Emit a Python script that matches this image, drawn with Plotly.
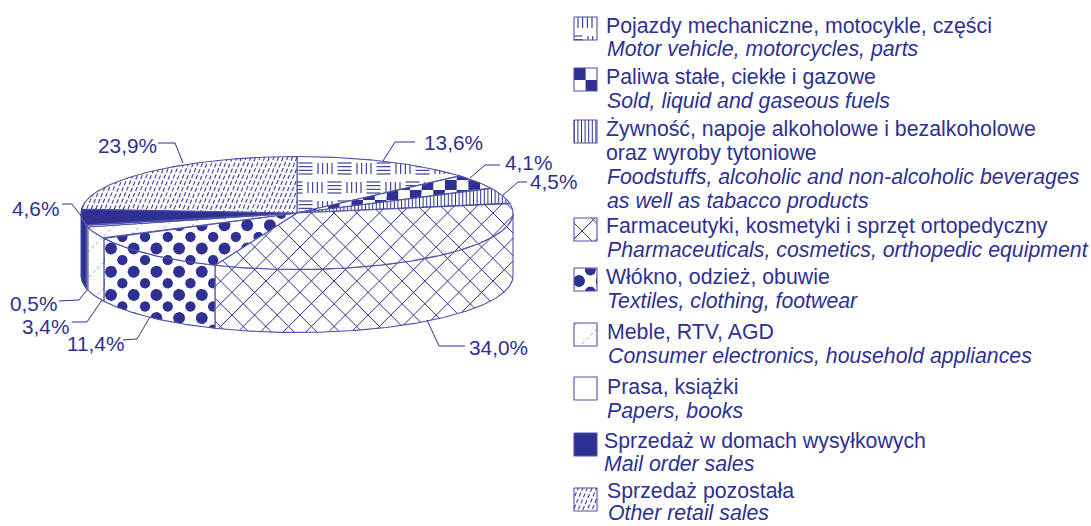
import numpy as np
import plotly.graph_objects as go

# ---- data -------------------------------------------------------------
VALUES = [13.6, 4.1, 4.5, 34.0, 11.4, 3.4, 0.5, 4.6, 23.9]
VALUE_LABELS = ["13,6%", "4,1%", "4,5%", "34,0%", "11,4%", "3,4%", "0,5%", "4,6%", "23,9%"]
NAMES_PL = ["Pojazdy mechaniczne, motocykle, części", "Paliwa stałe, ciekłe i gazowe",
            "Żywność, napoje alkoholowe i bezalkoholowe<br>oraz wyroby tytoniowe",
            "Farmaceutyki, kosmetyki i sprzęt ortopedyczny", "Włókno, odzież, obuwie",
            "Meble, RTV, AGD", "Prasa, książki", "Sprzedaż w domach wysyłkowych", "Sprzedaż pozostała"]
NAMES_EN = ["Motor vehicle, motorcycles, parts", "Sold, liquid and gaseous fuels",
            "Foodstuffs, alcoholic and non-alcoholic beverages<br>as well as tabacco products",
            "Pharmaceuticals, cosmetics, orthopedic equipment", "Textiles, clothing, footwear",
            "Consumer electronics, household appliances", "Papers, books", "Mail order sales",
            "Other retail sales"]

# ---- layout / style ----------------------------------------------------
NAVY = "#2e3192"
EDGE = "#4f52a6"
FONT = "Liberation Sans"
CX, CY, RX, RY, DEPTH = 297.0, 213.0, 216.0, 56.5, 63.0
W, H = 1091, 526

LABEL_POS = [(422, 142), (503, 162), (528, 181), (467, 347), (65, 343),
             (20, 326), (8, 303), (10, 208), (96, 145)]
LEADERS = [[(415, 142), (395, 142), (383, 161)], [(500, 165), (485, 165), (470, 178)],
           [(527, 182), (518, 182), (503, 195)], [(465, 346), (439, 346), (427, 320)],
           [(123, 340), (137, 339), (150, 317)], [(72, 322), (87, 322), (102, 300)],
           [(59, 301), (79, 300), (87, 290)], [(62, 204), (72, 204), (82, 217)],
           [(158, 143), (175, 143), (183, 163)]]
SWATCH_Y = [17, 68, 120, 218, 268, 323, 377, 433, 488]
SWATCH_X = 574
SWATCH_S = 23
LEGEND_LINES = [  # x, y of the first line for each language block
    [(604, 26), (605, 49)], [(604, 77), (605, 101)], [(604, 129), (605, 177)],
    [(604, 226), (605, 250)], [(604, 277), (605, 301)], [(605, 332), (606, 356)],
    [(605, 387), (605, 411)], [(602, 441), (602, 464)], [(605, 491), (606, 513)]]
LINE_H = 24


def pt(a, dy=0.0):
    return CX + RX * np.sin(a), CY - RY * np.cos(a) + dy


def arc(a0, a1, dy=0.0):
    n = max(2, int(abs(a1 - a0) / 0.01))
    t = np.linspace(a0, a1, n)
    x, y = pt(t, dy)
    return list(zip(x, y))


def clip_segment(poly, p, q):
    """Return parts of segment pq inside polygon (even-odd)."""
    p, q = np.array(p, float), np.array(q, float)
    d = q - p
    P = np.array(poly)
    A = P
    B = np.roll(P, -1, axis=0)
    e = B - A
    den = d[0] * e[:, 1] - d[1] * e[:, 0]
    ok = np.abs(den) > 1e-9
    r = A[ok] - p
    t = (r[:, 0] * e[ok, 1] - r[:, 1] * e[ok, 0]) / den[ok]
    u = (r[:, 0] * d[1] - r[:, 1] * d[0]) / den[ok]
    ts = np.sort(t[(u >= 0) & (u < 1)])
    out = []
    for i in range(0, len(ts) - 1, 2):
        t0, t1 = max(ts[i], 0), min(ts[i + 1], 1)
        if t1 > t0:
            out.append((p + t0 * d, p + t1 * d))
    return out


def inside(poly, x, y):
    P = np.array(poly)
    Q = np.roll(P, -1, axis=0)
    c = ((P[:, 1] > y) != (Q[:, 1] > y))
    xi = P[c, 0] + (y - P[c, 1]) * (Q[c, 0] - P[c, 0]) / (Q[c, 1] - P[c, 1])
    return np.sum(xi > x) % 2 == 1


def nearest_on(poly, x, y):
    P = np.array(poly)
    Q = np.roll(P, -1, axis=0)
    e = Q - P
    t = np.clip(((x - P[:, 0]) * e[:, 0] + (y - P[:, 1]) * e[:, 1]) / np.maximum((e ** 2).sum(1), 1e-9), 0, 1)
    C = P + e * t[:, None]
    i = np.argmin(((C - [x, y]) ** 2).sum(1))
    return C[i]


def bbox(poly):
    P = np.array(poly)
    return P[:, 0].min(), P[:, 0].max(), P[:, 1].min(), P[:, 1].max()


fig = go.Figure()


def add_lines(poly, segs, color=NAVY, width=1.0, dash=None):
    xs, ys = [], []
    for p, q in segs:
        for a, b in clip_segment(poly, p, q):
            xs += [a[0], b[0], None]
            ys += [a[1], b[1], None]
    if xs:
        fig.add_trace(go.Scatter(x=xs, y=ys, mode="lines", hoverinfo="skip", showlegend=False,
                                 line=dict(color=color, width=width, dash=dash)))


def add_blobs(blobs):
    xs, ys = [], []
    for b in blobs:
        xs += [p[0] for p in b] + [b[0][0], None]
        ys += [p[1] for p in b] + [b[0][1], None]
    if xs:
        fig.add_trace(go.Scatter(x=xs, y=ys, mode="lines", fill="toself", fillcolor=NAVY,
                                 hoverinfo="skip", showlegend=False, line=dict(width=0, color=NAVY)))


def clip_blob(poly, b):
    flags = [inside(poly, x, y) for x, y in b]
    if not any(flags):
        return None
    return [(x, y) if f else tuple(nearest_on(poly, x, y)) for (x, y), f in zip(b, flags)]


def weave(poly, xv, y0, shift, n=4):
    """basket-weave of vertical and horizontal line groups."""
    x0, x1, y_min, y1 = bbox(poly)
    segs = []
    gw, gh, px, py = 14.0, 11.0, 39.0, 19.0
    for r in range(-3, 22):
        ytop = y0 + r * py
        if ytop > y1 or ytop + gh < y_min:
            continue
        s = shift if r % 2 else 0.0
        for k in range(-20, 21):
            xa = xv + s + k * px
            if xa > x1 + 40 or xa < x0 - 60:
                continue
            for i in range(n):
                xx = xa + i * gw / (n - 1)
                segs.append(((xx, ytop), (xx, ytop + gh)))
                yy = ytop + i * gh / (n - 1)
                segs.append(((xa + px / 2, yy), (xa + px / 2 + gw, yy)))
    add_lines(poly, segs, width=1.1)


def chequer(poly, x0, y0, cw, ch):
    xa, xb, ya, yb = bbox(poly)
    blobs = []
    for r in range(int((ya - y0) // ch) - 1, int((yb - y0) // ch) + 2):
        for c in range(int((xa - x0) // cw) - 1, int((xb - x0) // cw) + 2):
            if (r + c) % 2 == 0:
                X, Y = x0 + c * cw, y0 + r * ch
                sq = []
                for t in np.linspace(0, 1, 8):
                    sq.append((X + t * cw, Y))
                for t in np.linspace(0, 1, 8):
                    sq.append((X + cw, Y + t * ch))
                for t in np.linspace(0, 1, 8):
                    sq.append((X + cw - t * cw, Y + ch))
                for t in np.linspace(0, 1, 8):
                    sq.append((X, Y + ch - t * ch))
                b = clip_blob(poly, sq)
                if b:
                    blobs.append(b)
    add_blobs(blobs)


def vlines(poly, x0, step):
    xa, xb, ya, yb = bbox(poly)
    k0, k1 = int((xa - x0) // step), int((xb - x0) // step) + 1
    add_lines(poly, [((x0 + k * step, ya - 1), (x0 + k * step, yb + 1)) for k in range(k0, k1 + 1)], width=1.0)


def xhatch(poly, cp, cm, step, width=1.0):
    xa, xb, ya, yb = bbox(poly)
    segs = []
    L = (xb - xa) + (yb - ya) + 10
    for k in range(-40, 41):
        c = cp + k * step            # x + y = c
        segs.append(((c - ya + 5, ya - 5), (c - ya + 5 - L, ya - 5 + L)))
        c = cm + k * step            # x - y = c
        segs.append(((c + ya - 5, ya - 5), (c + ya - 5 + L, ya - 5 + L)))
    add_lines(poly, segs, width=width)


def dots(poly, x0, y0, px, py, r_big, r_small):
    xa, xb, ya, yb = bbox(poly)
    blobs = []
    th = np.linspace(0, 2 * np.pi, 24, endpoint=False)
    for r in range(-30, 31):
        Y = y0 + r * py
        if Y < ya - 8 or Y > yb + 8:
            continue
        rad = r_big if r % 2 == 0 else r_small
        off = 0 if r % 2 == 0 else px / 2
        for k in range(-30, 31):
            X = x0 + off + k * px
            if X < xa - 8 or X > xb + 8:
                continue
            b = clip_blob(poly, list(zip(X + rad * np.cos(th), Y + rad * np.sin(th))))
            if b:
                blobs.append(b)
    add_blobs(blobs)


def sparse(poly, c0, step):
    xa, xb, ya, yb = bbox(poly)
    L = (xb - xa) + (yb - ya) + 10
    segs = []
    for k in range(-30, 31):
        c = c0 + k * step
        segs.append(((c - ya + 5, ya - 5), (c - ya + 5 - L, ya - 5 + L)))
    add_lines(poly, segs, color="#9c9dd2", width=1.0, dash="dot")


def streaks(poly):
    """fine steep dashed hatch of the 'other retail' slice."""
    xa, xb, ya, yb = bbox(poly)
    step, lean = 4.6, 0.42
    h = yb - ya + 2
    segs = []
    n = int((xb - xa + lean * h) / step) + 2
    for k in range(n):
        x0 = xa + k * step
        segs.append(((x0, ya - 1), (x0 - lean * h, yb + 1)))
    xs, ys = [], []
    for p, q in segs:
        for a, b in clip_segment(poly, p, q):
            yy = np.floor(a[1] / 6.0) * 6.0 + (a[0] % 2.0)
            while yy < b[1]:
                y1, y2 = max(yy, a[1]), min(yy + 4.0, b[1])
                if y2 > y1:
                    f = lambda v: a[0] + (b[0] - a[0]) * (v - a[1]) / (b[1] - a[1])
                    xs += [f(y1), f(y2), None]
                    ys += [y1, y2, None]
                yy += 6.0
    fig.add_trace(go.Scatter(x=xs, y=ys, mode="lines", hoverinfo="skip", showlegend=False,
                             line=dict(color="#3a3d98", width=1.1)))


def base(poly, fill="white"):
    xs = [p[0] for p in poly] + [poly[0][0]]
    ys = [p[1] for p in poly] + [poly[0][1]]
    fig.add_trace(go.Scatter(x=xs, y=ys, mode="lines", fill="toself", fillcolor=fill, hoverinfo="skip",
                             showlegend=False, line=dict(width=0, color=fill)))


def outline(poly, width=1.1):
    xs = [p[0] for p in poly] + [poly[0][0]]
    ys = [p[1] for p in poly] + [poly[0][1]]
    fig.add_trace(go.Scatter(x=xs, y=ys, mode="lines", hoverinfo="skip", showlegend=False,
                             line=dict(width=width, color=EDGE)))


def paint(i, poly, where):
    if i == 0:
        if where == "swatch":
            weave(poly, 578, 17, 10)
        else:
            weave(poly, 318, 163, -10)
    elif i == 1:
        if where == "swatch":
            chequer(poly, SWATCH_X, SWATCH_Y[1], 11.6, 12)
        else:
            chequer(poly, 445, 180, 11.7, 10)
    elif i == 2:
        vlines(poly, 401.5, 3.6)
    elif i == 3:
        if where == "swatch":
            xhatch(poly, 813, 351, 22.7)
        else:
            xhatch(poly, 524.3, 75.7, 22.7)
    elif i == 4:
        if where == "swatch":
            dots(poly, 579, 281, 22.7, 11.0, 6, 5.5)
        else:
            dots(poly, 111, 271.7, 22.7, 11.6, 6.0, 5.2)
    elif i == 5:
        sparse(poly, 926 if where == "swatch" else 340, 26)
    elif i == 8:
        streaks(poly)


# ---- pie ---------------------------------------------------------------
edges = np.cumsum([0] + VALUES) / sum(VALUES) * 2 * np.pi
FILL = {7: NAVY}
for i in range(len(VALUES)):
    a0, a1 = edges[i], edges[i + 1]
    # side wall (front half only)
    s0, s1 = max(a0, np.pi / 2), min(a1, 3 * np.pi / 2)
    side = None
    if s1 > s0:
        side = arc(s0, s1) + arc(s1, s0, DEPTH)
    top = [(CX, CY)] + arc(a0, a1)
    fill = FILL.get(i, "white")
    if side:
        base(side, fill)
        paint(i, side, "pie")
        outline(side)
    base(top, fill)
    paint(i, top, "pie")
    outline(top)

# ---- leaders and value labels ------------------------------------------
annotations = []
for lead, pos, txt in zip(LEADERS, LABEL_POS, VALUE_LABELS):
    fig.add_trace(go.Scatter(x=[p[0] for p in lead], y=[p[1] for p in lead], mode="lines", hoverinfo="skip",
                             showlegend=False, line=dict(color=NAVY, width=1)))
    annotations.append(dict(x=pos[0], y=pos[1], text=txt, xanchor="left", yanchor="middle", showarrow=False,
                            xref="x", yref="y", font=dict(family=FONT, size=20.8, color=NAVY)))

# ---- legend ------------------------------------------------------------
for i, y in enumerate(SWATCH_Y):
    sq = []
    for t in np.linspace(0, 1, 3):
        sq.append((SWATCH_X + t * SWATCH_S, y))
    for t in np.linspace(0, 1, 3)[1:]:
        sq.append((SWATCH_X + SWATCH_S, y + t * SWATCH_S))
    for t in np.linspace(0, 1, 3)[1:]:
        sq.append((SWATCH_X + SWATCH_S - t * SWATCH_S, y + SWATCH_S))
    for t in np.linspace(0, 1, 3)[1:-1]:
        sq.append((SWATCH_X, y + SWATCH_S - t * SWATCH_S))
    base(sq, FILL.get(i, "white"))
    paint(i, sq, "swatch")
    outline(sq)
    (xp, yp), (xe, ye) = LEGEND_LINES[i]
    for txt, xx, yy, it in ((NAMES_PL[i], xp, yp, False), (NAMES_EN[i], xe, ye, True)):
        for j, line in enumerate(txt.split("<br>")):
            annotations.append(dict(x=xx, y=yy + j * LINE_H, text=f"<i>{line}</i>" if it else line,
                                    xanchor="left", yanchor="middle", showarrow=False, xref="x", yref="y",
                                    font=dict(family=FONT, size=21.3, color=NAVY)))

fig.update_layout(width=W, height=H, autosize=False, margin=dict(l=0, r=0, t=0, b=0),
                  paper_bgcolor="white", plot_bgcolor="white", showlegend=False,
                  annotations=annotations,
                  xaxis=dict(range=[0, W], visible=False, fixedrange=True),
                  yaxis=dict(range=[H, 0], visible=False, fixedrange=True))
fig.write_html("out.html", config=dict(displayModeBar=False),
               post_script="document.body.style.margin='0';document.documentElement.style.overflow='hidden';")
